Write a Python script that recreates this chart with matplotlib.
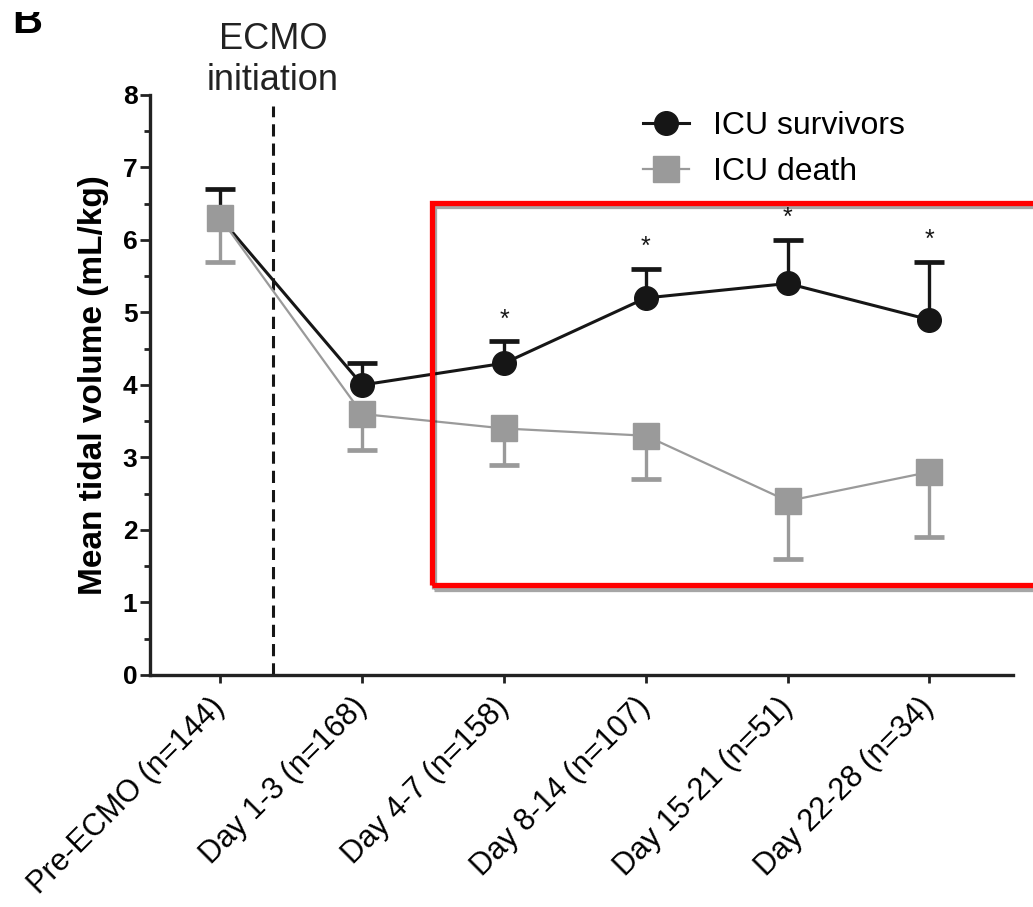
import matplotlib

matplotlib.use("Agg")
import matplotlib.pyplot as plt
import matplotlib.patheffects as pe
from matplotlib.patches import Rectangle
from matplotlib.transforms import Bbox
from matplotlib.ticker import MultipleLocator

plt.rcParams["font.family"] = ["Liberation Sans", "DejaVu Sans"]

# data
categories = ["Pre-ECMO (n=144)", "Day 1-3 (n=168)", "Day 4-7 (n=158)",
              "Day 8-14 (n=107)", "Day 15-21 (n=51)", "Day 22-28 (n=34)"]
surv_mean = [6.3, 4.0, 4.3, 5.2, 5.4, 4.9]
surv_upper = [6.7, 4.3, 4.6, 5.6, 6.0, 5.7]
death_mean = [6.3, 3.6, 3.4, 3.3, 2.4, 2.8]
death_lower = [5.7, 3.1, 2.9, 2.7, 1.6, 1.9]
significant = [False, False, True, True, True, True]
ecmo_start = 0.37  # between Pre-ECMO and Day 1-3

BLACK = "#161616"
GREY = "#9a9a9a"

fig = plt.figure(figsize=(10.33, 9.07), dpi=100)
ax = fig.add_axes([0.1452, 0.2558, 0.8354, 0.6395])

x = list(range(len(categories)))

# survivors: upper error bars, line, markers
ax.vlines(x, surv_mean, surv_upper, color=BLACK, lw=2.4, zorder=2)
ax.plot(x, surv_upper, ls="none", marker="_", ms=22, mew=3.4, color=BLACK, zorder=2)
ax.plot(x, surv_mean, color=BLACK, lw=2.2, marker="o", ms=17, mfc=BLACK, mec=BLACK,
        label="ICU survivors", zorder=3)

# death: lower error bars, line, markers
ax.vlines(x, death_lower, death_mean, color=GREY, lw=2.4, zorder=4)
ax.plot(x, death_lower, ls="none", marker="_", ms=22, mew=3.4, color=GREY, zorder=4)
ax.plot(x, death_mean, color=GREY, lw=1.6, marker="s", ms=19, mfc=GREY, mec=GREY,
        label="ICU death", zorder=5)

for xi, top, sig in zip(x, surv_upper, significant):
    if sig:
        ax.text(xi, top + 0.3, "*", ha="center", va="center", fontsize=18, color=BLACK)

# ECMO initiation marker
ax.vlines(ecmo_start, 0, 7.85, colors=BLACK, lw=2.2, linestyles=(0, (4, 2.3)), zorder=1)
ax.text(ecmo_start, 8.07, "ECMO\ninitiation", ha="center", va="baseline",
        fontsize=26, color="#222222", linespacing=1.2, clip_on=False)

ax.set_xlim(-0.497, 5.589)
ax.set_ylim(0, 8)
ax.set_xticks(x)
ax.set_xticklabels(categories, rotation=45, ha="right", va="center",
                   rotation_mode="anchor", fontsize=22)
ax.yaxis.set_major_locator(MultipleLocator(1))
ax.yaxis.set_minor_locator(MultipleLocator(0.5))
for lab in ax.get_yticklabels():
    lab.set_fontweight("bold")
ax.tick_params(axis="y", which="major", labelsize=19, length=7, width=2, pad=2,
               color="#222222")
ax.tick_params(axis="y", which="minor", length=4, width=2, color="#222222")
ax.tick_params(axis="x", length=6, width=2, pad=14, color="#222222")
ax.set_ylabel("Mean tidal volume (mL/kg)", fontsize=24, fontweight="bold", labelpad=10)

for side in ("top", "right"):
    ax.spines[side].set_visible(False)
for side in ("left", "bottom"):
    ax.spines[side].set_linewidth(2.4)
    ax.spines[side].set_color("#222222")

ax.legend(loc="upper left", bbox_to_anchor=(0.571, 0.972), frameon=False,
          fontsize=23, handlelength=1.45, handletextpad=0.75, labelspacing=0.5,
          borderpad=0, borderaxespad=0)

# red highlight box over days 4-28
box = Rectangle((1.49, 1.24), 4.4, 5.27, fill=False, edgecolor="#ff0000", lw=3.8,
                clip_on=False, zorder=6,
                path_effects=[pe.SimpleLineShadow(offset=(1.5, -2.5), shadow_color="k",
                                                  alpha=0.35),
                              pe.Normal()])
ax.add_patch(box)

# panel letter, cropped at the top as in the source figure
letter = fig.text(0.012, 1 - 33 / 907, "B", fontsize=30, fontweight="bold", va="baseline")
letter.set_clip_box(Bbox.from_extents(0, 0, 1033, 907 - 12))
letter.set_clip_on(True)

fig.savefig("out.png", dpi=100)
